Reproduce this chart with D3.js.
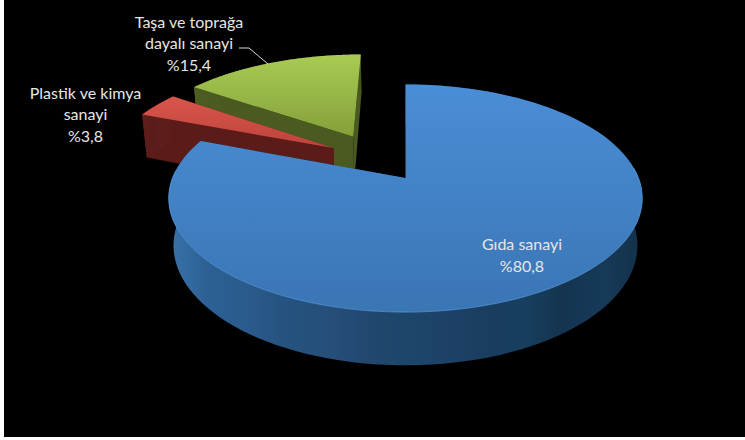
<!DOCTYPE html>
<html><head><meta charset="utf-8">
<style>html,body{margin:0;padding:0;background:#fff;overflow:hidden}svg{display:block}</style>
<script src="https://cdn.jsdelivr.net/npm/d3@7"></script></head>
<body><svg id="c" width="745" height="440"></svg>
<script>
const categories = ["Gıda sanayi", "Plastik ve kimya sanayi", "Taşa ve toprağa dayalı sanayi"];
const values = [80.8, 3.8, 15.4];
const percentLabels = ["%80,8", "%3,8", "%15,4"];
const labelLines = [["Gıda sanayi"], ["Plastik ve kimya", "sanayi"], ["Taşa ve toprağa", "dayalı sanayi"]];

const explodeU = [0, -0.325, -0.24];
const explodeV = [0, 0.285, 0.40];
const topColors = [["#4a8ed7", "#3a75b4"], ["#d9554b", "#bd443c"], ["#a9cb54", "#84a03a"]];
const faceColors = ["#1d3f63", "#5b1b18", "#4a5a20"];
const wallBands = [
  ["#133049", "#163a58", "#14344f", "#173f5f", "#1a3d60", "#1e4268", "#1b466a", "#22486f", "#254f7a", "#25527f", "#2a5b8c", "#2c6094", "#3a72a8"],
  ["#5b1a17", "#5e1f1c", "#5a1c1a", "#5e1f1c"],
  ["#45551f", "#4c5c22", "#48581f", "#4c5c22"]
];

const W = 745, H = 440, K = 0.178, DEPTH = 47.5, KZ = 0.02;
const svg = d3.select("#c");
svg.append("rect").attr("x", 4).attr("y", 0).attr("width", W - 4).attr("height", 437).attr("fill", "#000");

const sx = d3.scaleLinear().domain([-1, 1]).range([405.5 - 233, 405.5 + 233]);
const sy = d3.scaleLinear().domain([-1, 1]).range([178 + 110.2, 178 - 110.2]);
const sz = d3.scaleLinear().domain([0, 1]).range([0, DEPTH]);
function project(u, v, z) {
  const w = 1 + K * v + KZ * z;
  return [sx(0) + (sx(u) - sx(0)) / w, sy(0) + (sy(v) - sy(0) + sz(z)) / w];
}
const pie = d3.pie().sort(null).startAngle(0).endAngle(2 * Math.PI);
const arcs = pie(values);
const line = d3.line();
const defs = svg.append("defs");

[2, 1, 0].forEach(i => {
  const a = arcs[i], du = explodeU[i], dv = explodeV[i];
  const layer = svg.append("g");
  const pt = (t, z, r = 1) => project(du + r * Math.sin(t), dv + r * Math.cos(t), z);
  const steps = d3.range(0, 121).map(j => a.startAngle + (a.endAngle - a.startAngle) * j / 120);

  const tg = defs.append("linearGradient").attr("id", "top" + i).attr("x1", 0).attr("y1", 0).attr("x2", 0).attr("y2", 1);
  tg.append("stop").attr("offset", "0%").attr("stop-color", topColors[i][0]);
  tg.append("stop").attr("offset", "100%").attr("stop-color", topColors[i][1]);

  // wall gradient: vertical bands across the slice's screen width
  const xs = steps.map(t => pt(t, 0)[0]);
  const bands = wallBands[i];
  const wg = defs.append("linearGradient").attr("id", "wall" + i)
    .attr("gradientUnits", "userSpaceOnUse")
    .attr("x1", d3.max(xs)).attr("y1", 0).attr("x2", d3.min(xs)).attr("y2", 0);
  wg.selectAll("stop").data(bands).join("stop")
    .attr("offset", (d, j) => j / (bands.length - 1))
    .attr("stop-color", d => d);

  // cut faces
  [a.endAngle, a.startAngle].forEach(t => {
    layer.append("path")
      .attr("d", line([pt(t, 0, 0), pt(t, 0), pt(t, 1), pt(t, 1, 0)]) + "Z")
      .attr("fill", faceColors[i]);
  });

  // outer wall
  layer.append("path")
    .attr("d", line([...steps.map(t => pt(t, 0)), ...steps.slice().reverse().map(t => pt(t, 1))]) + "Z")
    .attr("fill", `url(#wall${i})`);

  // top face
  layer.append("path").attr("d", line([pt(0, 0, 0), ...steps.map(t => pt(t, 0))]) + "Z").attr("fill", `url(#top${i})`);
  if (i === 0) {
    const rim = steps.filter(t => Math.cos(t) < 0.1);
    layer.append("path").attr("d", line(rim.map(t => pt(t, 0)))).attr("fill", "none")
      .attr("stroke", "#5a9fe6").attr("stroke-width", 1).attr("stroke-opacity", 0.7);
  }
});

// labels
const font = "Lato, 'Open Sans', sans-serif";
const labelAnchors = [[522, 250], [85.5, 98.5], [189, 27.5]];
const lh = 21.5;
values.forEach((_, i) => {
  const lines = [...labelLines[i], percentLabels[i]];
  svg.append("text").attr("text-anchor", "middle").attr("font-family", font)
    .attr("font-size", 16).attr("fill", "#e6e6e6")
    .selectAll("tspan").data(lines).join("tspan")
    .attr("x", labelAnchors[i][0])
    .attr("y", (d, j) => labelAnchors[i][1] + j * lh)
    .text(d => d);
});
// leader line for the green slice
svg.append("path").attr("d", line([[239, 48], [249, 48], [268, 64]]))
  .attr("fill", "none").attr("stroke", "#d8d8d8").attr("stroke-width", 1);
</script></body></html>
